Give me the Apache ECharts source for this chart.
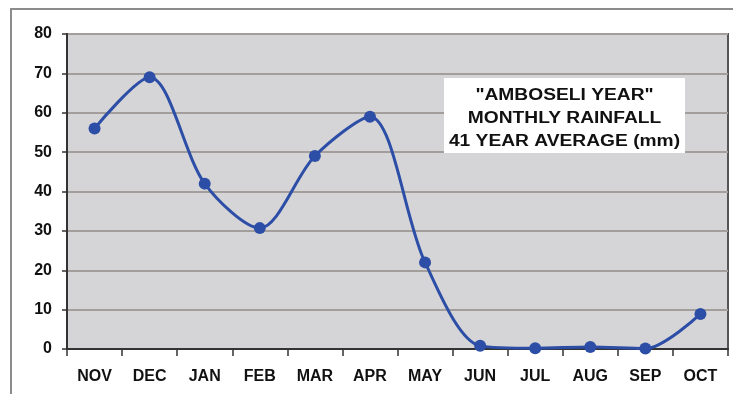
<!DOCTYPE html>
<html>
<head>
<meta charset="utf-8">
<script src="https://cdn.jsdelivr.net/npm/echarts@6/dist/echarts.min.js"></script>
<style>
  html, body { margin: 0; padding: 0; background: #fff; }
  #chart { width: 733px; height: 394px; }
</style>
</head>
<body>
<div id="chart"></div>
<script>
// Monthly rainfall, Amboseli year (Nov-Oct), 41-year average in mm
const months = ['NOV', 'DEC', 'JAN', 'FEB', 'MAR', 'APR', 'MAY', 'JUN', 'JUL', 'AUG', 'SEP', 'OCT'];
const rainfall = [56, 69, 42, 30.7, 49, 59, 22, 0.8, 0.2, 0.5, 0.1, 8.9];
const titleLines = ['"AMBOSELI YEAR"', 'MONTHLY RAINFALL', '41 YEAR AVERAGE (mm)'];

const FONT = '"Liberation Sans", Arial, sans-serif';
const chart = echarts.init(document.getElementById('chart'), null, { renderer: 'canvas' });

chart.setOption({
  backgroundColor: '#ffffff',
  animation: false,
  graphic: [
    {
      // outer frame of the figure
      type: 'rect',
      shape: { x: 11, y: 9, width: 740, height: 400 },
      style: { fill: 'none', stroke: '#8c8c8c', lineWidth: 2 },
      z: 0
    },
    {
      // white caption box inside the plot
      type: 'rect',
      shape: { x: 444, y: 78, width: 241, height: 75 },
      style: { fill: '#ffffff' },
      z: 100
    },
    {
      type: 'text',
      x: 564.5, y: 119,
      scaleX: 1.2,
      originX: 0, originY: 0,
      style: {
        text: titleLines.join('\n'),
        align: 'center',
        verticalAlign: 'middle',
        font: 'bold 16px ' + FONT,
        lineHeight: 23,
        fill: '#111'
      },
      z: 101
    }
  ],
  grid: {
    left: 67, right: 5, top: 34, bottom: 45,
    show: true,
    backgroundColor: '#d5d5d7',
    borderColor: '#555',
    borderWidth: 2
  },
  xAxis: {
    type: 'category',
    data: months,
    boundaryGap: true,
    axisLine: { lineStyle: { color: '#333', width: 2 } },
    axisTick: { show: true, alignWithLabel: false, length: 7, lineStyle: { color: '#333', width: 1.5 } },
    axisLabel: { color: '#111', fontFamily: FONT, fontWeight: 'bold', fontSize: 16, margin: 20 },
    splitLine: { show: false }
  },
  yAxis: {
    type: 'value',
    min: 0, max: 80, interval: 10,
    axisLine: { show: true, lineStyle: { color: '#333', width: 2 } },
    axisTick: { show: true, length: 5, lineStyle: { color: '#333', width: 1.5 } },
    axisLabel: { color: '#111', fontFamily: FONT, fontWeight: 'bold', fontSize: 16, margin: 15 },
    splitLine: { show: true, lineStyle: { color: '#a39e9b', width: 2 } }
  },
  series: [{
    type: 'line',
    data: rainfall,
    smooth: 0.3,
    clip: true,
    symbol: 'circle',
    symbolSize: 12,
    lineStyle: { color: '#2d4ea6', width: 3 },
    itemStyle: { color: '#2d4ea6' },
    z: 5
  }]
});
</script>
</body>
</html>
